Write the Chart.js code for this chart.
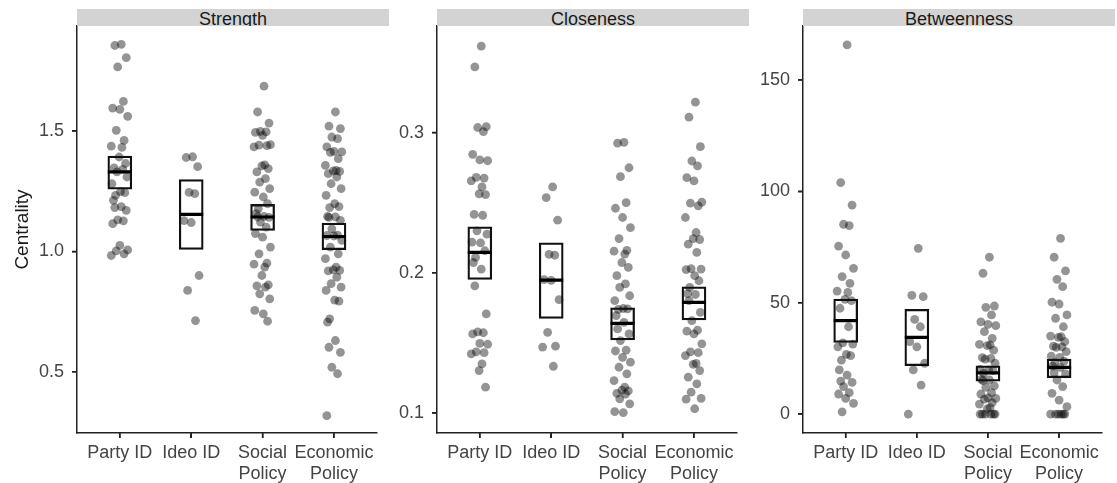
<!DOCTYPE html>
<html>
<head>
<meta charset="utf-8">
<script src="https://cdn.jsdelivr.net/npm/chart.js@4.4.1/dist/chart.umd.min.js"></script>
<style>
  body { margin: 0; background: #fff; width: 1117px; height: 483px; position: relative; overflow: hidden; font-family: "Liberation Sans", Arial, sans-serif; }
  canvas { position: absolute; top: 0; }
  .strip { position: absolute; top: 9px; height: 17px; background: #d3d3d3; color: #1a1a1a; font-size: 18px; line-height: 20px; text-align: center; overflow: hidden; }
</style>
</head>
<body>
<script>
const categories = [['Party ID'], ['Ideo ID'], ['Social', 'Policy'], ['Economic', 'Policy']];

// Strength
const strengthParty = [1.86, 1.855, 1.805, 1.766, 1.623, 1.595, 1.59, 1.561, 1.503, 1.461, 1.437, 1.432, 1.392, 1.365, 1.347, 1.341, 1.330, 1.309, 1.281, 1.248, 1.244, 1.233, 1.212, 1.186, 1.182, 1.170, 1.131, 1.127, 1.115, 1.025, 1.006, 1.002, 0.990, 0.983];
const strengthIdeo = [1.393, 1.39, 1.352, 1.245, 1.24, 1.128, 1.12, 0.90, 0.838, 0.713];
const strengthSocial = [1.686, 1.579, 1.533, 1.498, 1.496, 1.494, 1.482, 1.443, 1.441, 1.439, 1.434, 1.359, 1.355, 1.344, 1.330, 1.302, 1.288, 1.261, 1.246, 1.226, 1.198, 1.177, 1.157, 1.145, 1.143, 1.141, 1.122, 1.101, 1.074, 1.059, 1.018, 0.990, 0.951, 0.947, 0.935, 0.900, 0.861, 0.857, 0.852, 0.824, 0.803, 0.755, 0.741, 0.710];
const strengthEcon = [1.579, 1.520, 1.510, 1.475, 1.468, 1.434, 1.415, 1.413, 1.411, 1.385, 1.357, 1.336, 1.334, 1.332, 1.323, 1.309, 1.281, 1.261, 1.233, 1.198, 1.186, 1.182, 1.145, 1.143, 1.141, 1.129, 1.094, 1.068, 1.066, 1.064, 1.046, 1.018, 0.990, 0.970, 0.935, 0.923, 0.921, 0.919, 0.893, 0.866, 0.852, 0.838, 0.798, 0.794, 0.720, 0.706, 0.630, 0.602, 0.581, 0.519, 0.492, 0.318];
const strengthMean = [1.330, 1.154, 1.143, 1.062];
const strengthLow = [1.258, 1.008, 1.087, 1.007];
const strengthHigh = [1.396, 1.298, 1.195, 1.118];
const strengthTicks = [0.5, 1.0, 1.5];
const strengthTickLabels = ['0.5', '1.0', '1.5'];

// Closeness
const closeParty = [0.3616, 0.3468, 0.3042, 0.3036, 0.3006, 0.2845, 0.2805, 0.2799, 0.2681, 0.2675, 0.2655, 0.2612, 0.2563, 0.2557, 0.2416, 0.2410, 0.2299, 0.2275, 0.2219, 0.2213, 0.2157, 0.2109, 0.2073, 0.2026, 0.1907, 0.1706, 0.1578, 0.1572, 0.1564, 0.1496, 0.1490, 0.1436, 0.1430, 0.1421, 0.1350, 0.1302, 0.1184];
const closeIdeo = [0.2612, 0.2536, 0.2375, 0.2131, 0.2125, 0.1951, 0.1945, 0.1808, 0.1575, 0.1476, 0.1470, 0.1333];
const closeSocial = [0.2930, 0.2924, 0.2749, 0.2685, 0.2500, 0.2460, 0.2394, 0.2322, 0.2244, 0.2160, 0.2154, 0.2133, 0.2073, 0.2038, 0.1979, 0.1920, 0.1895, 0.1836, 0.1801, 0.1745, 0.1742, 0.1739, 0.1694, 0.1646, 0.1599, 0.1564, 0.1516, 0.1448, 0.1442, 0.1397, 0.1362, 0.1326, 0.1279, 0.1231, 0.1184, 0.1163, 0.1157, 0.1140, 0.1134, 0.1101, 0.1065, 0.1009, 0.1003];
const closeEcon = [0.3217, 0.3110, 0.2899, 0.2797, 0.2762, 0.2678, 0.2655, 0.2503, 0.2497, 0.2477, 0.2394, 0.2287, 0.2243, 0.2237, 0.2204, 0.2145, 0.2029, 0.2026, 0.2023, 0.1979, 0.1943, 0.1895, 0.1851, 0.1845, 0.1801, 0.1717, 0.1658, 0.1590, 0.1584, 0.1564, 0.1493, 0.1436, 0.1430, 0.1409, 0.1353, 0.1347, 0.1302, 0.1255, 0.1208, 0.1148, 0.1104, 0.1098, 0.1030];
const closeMean = [0.2145, 0.1948, 0.1639, 0.1789];
const closeLow = [0.1952, 0.1675, 0.1521, 0.1663];
const closeHigh = [0.2327, 0.2214, 0.1749, 0.1900];
const closeTicks = [0.1, 0.2, 0.3];
const closeTickLabels = ['0.1', '0.2', '0.3'];

// Betweenness
const betwParty = [165.7, 103.9, 93.8, 85.2, 84.6, 75.4, 71.4, 65.4, 61.7, 58.7, 55.2, 54.6, 51.5, 50.9, 47.5, 39.2, 32.0, 31.4, 30.2, 26.8, 26.2, 24.2, 19.8, 17.5, 14.8, 14.2, 12.3, 9.6, 9.0, 7.0, 4.8, 1.0];
const betwIdeo = [74.4, 53.3, 52.7, 42.5, 39.2, 32.5, 30.2, 22.8, 19.8, 13.0, 0];
const betwSocial = [70.4, 63.2, 48.5, 47.9, 44.5, 41.4, 40.3, 39.7, 37.0, 34.0, 31.3, 31.0, 30.7, 28.7, 25.3, 25.0, 24.7, 22.8, 20.1, 19.8, 19.5, 18.3, 15.6, 15.3, 15.0, 12.6, 12.0, 9.6, 9.0, 7.3, 7.0, 6.7, 5.1, 4.5, 2.9, 2.3, 0, 0, 0, 0, 0, 0];
const betwEcon = [78.9, 70.4, 64.3, 60.5, 57.2, 50.2, 49.4, 44.5, 43.0, 39.2, 35.0, 34.7, 34.4, 32.5, 30.5, 30.2, 29.9, 28.0, 26.0, 25.4, 23.8, 23.2, 21.5, 20.9, 18.6, 18.0, 15.3, 12.3, 9.3, 6.3, 3.3, 0, 0, 0, 0, 0, 0];
const betwMean = [41.9, 34.4, 18.5, 21.0];
const betwLow = [32.2, 21.7, 14.8, 16.3];
const betwHigh = [51.6, 47.0, 21.7, 24.7];
const betwTicks = [0, 50, 100, 150];
const betwTickLabels = ['0', '50', '100', '150'];

// fixed horizontal jitter (category units), cycled through each group
const jitter = [0.02, -0.07, 0.09, -0.03, 0.05, -0.10, 0.00, 0.11, -0.05, 0.06, -0.12, 0.03, -0.01, 0.08, -0.08, 0.04, -0.04, 0.10, -0.11, 0.01, 0.07, -0.06, -0.09];

const FONT = '"Liberation Sans", Arial, sans-serif';
const H = 483;
Chart.defaults.font.family = FONT;

const panels = [
  { title: 'Strength', groups: [strengthParty, strengthIdeo, strengthSocial, strengthEcon],
    mean: strengthMean, low: strengthLow, high: strengthHigh, ticks: strengthTicks, tickLabels: strengthTickLabels,
    yMin: 0.246, yMax: 1.936, left: 0, width: 392, axisWidth: 77, padRight: 3, yTitle: 'Centrality' },
  { title: 'Closeness', groups: [closeParty, closeIdeo, closeSocial, closeEcon],
    mean: closeMean, low: closeLow, high: closeHigh, ticks: closeTicks, tickLabels: closeTickLabels,
    yMin: 0.0857, yMax: 0.376, left: 392, width: 360, axisWidth: 45, padRight: 3, yTitle: '' },
  { title: 'Betweenness', groups: [betwParty, betwIdeo, betwSocial, betwEcon],
    mean: betwMean, low: betwLow, high: betwHigh, ticks: betwTicks, tickLabels: betwTickLabels,
    yMin: -8.5, yMax: 174.2, left: 752, width: 365, axisWidth: 51, padRight: 2, yTitle: '' }
];

// short tick marks outside the axes, placed with the scales
const tickMarks = {
  id: 'tickMarks',
  afterDraw(chart) {
    const { ctx, chartArea, scales } = chart;
    ctx.save();
    ctx.strokeStyle = '#222';
    ctx.lineWidth = 1.5;
    ctx.beginPath();
    scales.x.ticks.forEach(t => {
      const px = scales.x.getPixelForValue(t.value);
      ctx.moveTo(px, chartArea.bottom);
      ctx.lineTo(px, chartArea.bottom + 5);
    });
    scales.y.ticks.forEach(t => {
      const py = scales.y.getPixelForValue(t.value);
      ctx.moveTo(chartArea.left - 5, py);
      ctx.lineTo(chartArea.left, py);
    });
    ctx.stroke();
    ctx.restore();
  }
};

const gridOpts = { offset: false, drawOnChartArea: false, drawTicks: true, tickLength: 5, color: '#222', lineWidth: 1.5 };

panels.forEach(p => {
  const canvas = document.createElement('canvas');
  canvas.width = p.width;
  canvas.height = H;
  canvas.style.left = p.left + 'px';
  document.body.appendChild(canvas);

  const strip = document.createElement('div');
  strip.className = 'strip';
  strip.textContent = p.title;
  strip.style.left = (p.left + p.axisWidth) + 'px';
  strip.style.width = (p.width - p.axisWidth - p.padRight) + 'px';
  document.body.appendChild(strip);

  const points = [];
  p.groups.forEach((vals, c) => {
    vals.forEach((v, i) => points.push({ x: c + 1 + jitter[i % jitter.length], y: v }));
  });

  new Chart(canvas, {
    type: 'scatter',
    data: {
      datasets: [
        {
          type: 'scatter',
          data: points,
          pointRadius: 4.4,
          pointBackgroundColor: 'rgba(0,0,0,0.42)',
          pointBorderWidth: 0,
          order: 3
        },
        {
          type: 'bar',
          data: categories.map((_, c) => ({ x: c + 1, y: [p.low[c], p.high[c]] })),
          backgroundColor: 'rgba(0,0,0,0)',
          borderColor: '#111',
          borderWidth: 1.6,
          borderSkipped: false,
          barThickness: 24,
          grouped: false,
          order: 2
        },
        {
          type: 'scatter',
          data: categories.map((_, c) => ({ x: c + 1, y: p.mean[c] })),
          pointStyle: 'line',
          pointRadius: 12,
          pointBorderColor: '#000',
          pointBorderWidth: 3.2,
          order: 1
        }
      ]
    },
    options: {
      responsive: false,
      animation: false,
      events: [],
      layout: { padding: { top: 26, right: p.padRight, bottom: 0, left: 0 } },
      plugins: { legend: { display: false }, tooltip: { enabled: false } },
      scales: {
        x: {
          type: 'linear',
          min: 0.4,
          max: 4.6,
          offset: false,
          afterBuildTicks: ax => { ax.ticks = categories.map((_, c) => ({ value: c + 1 })); },
          afterFit: ax => { ax.height = 50; },
          ticks: {
            callback: (v, i) => categories[i],
            color: '#444',
            font: { size: 18, lineHeight: 1.15 },
            padding: 5,
            maxRotation: 0,
            autoSkip: false
          },
          grid: gridOpts,
          border: { display: true, color: '#222', width: 1.5 }
        },
        y: {
          min: p.yMin,
          max: p.yMax,
          afterBuildTicks: ax => { ax.ticks = p.ticks.map(v => ({ value: v })); },
          afterFit: ax => { ax.width = p.axisWidth; },
          ticks: {
            callback: (v, i) => p.tickLabels[i],
            color: '#444',
            font: { size: 18 },
            padding: 8
          },
          title: {
            display: !!p.yTitle,
            text: p.yTitle,
            color: '#1a1a1a',
            font: { size: 19 },
            padding: { top: 11, bottom: 0 }
          },
          grid: gridOpts,
          border: { display: true, color: '#222', width: 1.5 }
        }
      }
    },
    plugins: [tickMarks]
  });
});
</script>
</body>
</html>
